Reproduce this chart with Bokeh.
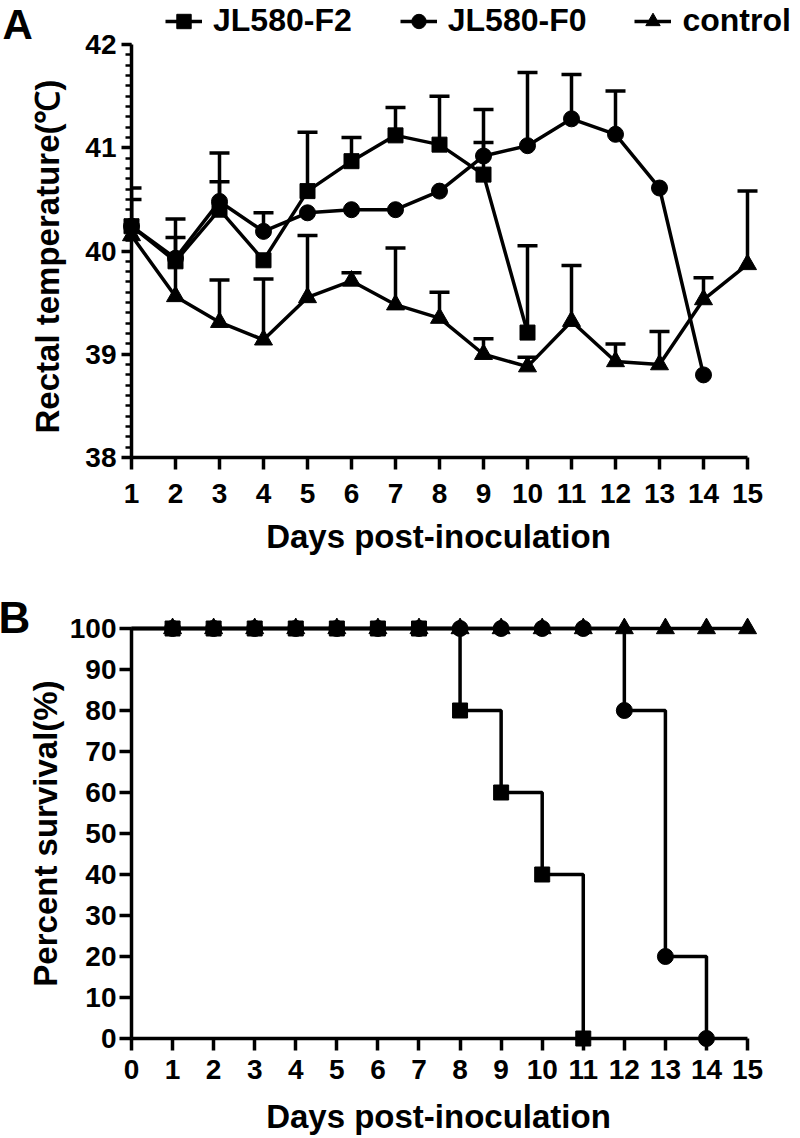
from bokeh.plotting import figure
from bokeh.layouts import column
from bokeh.models import Range1d, SingleIntervalTicker, Legend, LegendItem
from bokeh.core.properties import value
from bokeh.embed import file_html
from bokeh.resources import INLINE

# ---------------- data ----------------
days = [1, 2, 3, 4, 5, 6, 7, 8, 9, 10, 11, 12, 13, 14, 15]

f2_temp = [40.24, 39.90, 40.40, 39.91, 40.58, 40.87, 41.12, 41.03, 40.74, 39.21]
f2_sd = [0.37, 0.41, 0.27, 0.0, 0.57, 0.23, 0.27, 0.47, 0.31, 0.84]
f0_temp = [40.24, 39.93, 40.48, 40.19, 40.37, 40.40, 40.40, 40.58, 40.92, 41.02,
           41.28, 41.13, 40.61, 38.80]
f0_sd = [0.0, 0.0, 0.47, 0.18, 0.0, 0.0, 0.0, 0.0, 0.45, 0.71, 0.43, 0.42, 0.0, 0.0]
ctrl_temp = [40.15, 39.56, 39.31, 39.14, 39.55, 39.71, 39.48, 39.35, 39.00, 38.88,
             39.32, 38.93, 38.90, 39.53, 39.87]
ctrl_sd = [0.35, 0.57, 0.41, 0.59, 0.60, 0.08, 0.55, 0.25, 0.15, 0.09, 0.54, 0.17,
           0.32, 0.21, 0.71]

surv_days = [0, 1, 2, 3, 4, 5, 6, 7, 8, 9, 10, 11, 12, 13, 14, 15]
f2_surv = [100, 100, 100, 100, 100, 100, 100, 100, 80, 60, 40, 0]
f0_surv = [100, 100, 100, 100, 100, 100, 100, 100, 100, 100, 100, 100, 80, 20, 0]
ctrl_surv = [100, 100, 100, 100, 100, 100, 100, 100, 100, 100, 100, 100, 100, 100, 100, 100]

series_names = ["JL580-F2", "JL580-F0", "control"]
panel_letters = ["A", "B"]
y_title_a = "Rectal temperature(\u2103)"
y_title_b = "Percent survival(%)"
x_title = "Days post-inoculation"

FONT = "Liberation Sans"
LW = 3.5
NBSP = "\u00a0"  # trailing padding keeps titles centred on the drawn axis span

# layout (pixels)
W = 800
LEFT = 131
FRAME_W = W - LEFT
A_PX_X, A_PX_Y = 44.0, 103.25      # px per day, px per degree
A_H, A_BOTTOM = 560, 457            # figure height, frame bottom
B_PX_X = 41.07                      # px per day
B_H, B_TOP, B_FRAME_H = 578, 68, 410


def style_axis(ax, tick_out, standoff, label_standoff):
    ax.axis_line_width = LW
    ax.axis_line_color = "black"
    ax.major_tick_line_width = LW
    ax.major_tick_line_color = "black"
    ax.major_tick_out = tick_out
    ax.major_tick_in = 0
    ax.minor_tick_line_width = 2.5
    ax.minor_tick_line_color = "black"
    ax.minor_tick_out = 6
    ax.minor_tick_in = 0
    ax.major_label_text_font = FONT
    ax.major_label_text_font_size = "28px"
    ax.major_label_text_font_style = "bold"
    ax.major_label_text_color = "black"
    ax.major_label_standoff = standoff
    ax.axis_label_text_font = FONT
    ax.axis_label_text_font_size = "33px"
    ax.axis_label_text_font_style = "bold"
    ax.axis_label_text_color = "black"
    ax.axis_label_standoff = label_standoff


# ---------------- panel A ----------------
pA = figure(width=W, height=A_H,
            x_range=Range1d(1, 1 + FRAME_W / A_PX_X),
            y_range=Range1d(38, 38 + A_BOTTOM / A_PX_Y),
            output_backend="svg", toolbar_location=None,
            min_border_left=LEFT, min_border_right=0, min_border_top=0,
            min_border_bottom=A_H - A_BOTTOM)
pA.outline_line_color = None
pA.xgrid.grid_line_color = None
pA.ygrid.grid_line_color = None

pA.xaxis.ticker = SingleIntervalTicker(interval=1, num_minor_ticks=0)
pA.yaxis.ticker = SingleIntervalTicker(interval=1, num_minor_ticks=10)
pA.xaxis.bounds = (1, 15)
pA.yaxis.bounds = (38, 42)
pA.xaxis.axis_label = x_title + NBSP * 6
pA.yaxis.axis_label = y_title_a + NBSP * 6
style_axis(pA.xaxis[0], 12, 14, 12)
style_axis(pA.yaxis[0], 10, 5, 16)
pA.xaxis.minor_tick_line_color = None

markers = ["square", "circle", "triangle"]
msizes = [15, 16, 18]
temps_all = [f2_temp, f0_temp, ctrl_temp]
sds_all = [f2_sd, f0_sd, ctrl_sd]
legend_items = []
for name, temps, sds, mk, ms in zip(series_names, temps_all, sds_all, markers, msizes):
    d = days[:len(temps)]
    ex = [d[i] for i in range(len(temps)) if sds[i] > 0]
    ey0 = [temps[i] for i in range(len(temps)) if sds[i] > 0]
    ey1 = [temps[i] + sds[i] for i in range(len(temps)) if sds[i] > 0]
    pA.segment(ex, ey0, ex, ey1, line_width=LW, line_color="black")
    pA.scatter(ex, ey1, marker="dash", size=20, line_width=LW, line_color="black")
    rl = pA.line(d, temps, line_width=LW, line_color="black", level="overlay")
    rm = pA.scatter(d, temps, marker=mk, size=ms, fill_color="black",
                    line_color="black", level="overlay")
    legend_items.append(LegendItem(label=name, renderers=[rl, rm]))

legend = Legend(items=legend_items, orientation="horizontal", location=(34, 418),
                spacing=48, label_standoff=11, glyph_width=37, glyph_height=36,
                padding=0, margin=0, border_line_color=None, background_fill_alpha=0,
                label_text_font=FONT, label_text_font_size="32px",
                label_text_font_style="bold", label_text_color="black")
pA.add_layout(legend)

# panel letter "A" (outside the frame, unclipped overlay level)
pA.text(x=[1 + (2 - LEFT) / A_PX_X], y=[38 + (A_BOTTOM - 24) / A_PX_Y],
        text=[panel_letters[0]], text_font=value(FONT), text_font_size="42px",
        text_font_style="bold", text_color="black", text_baseline="alphabetic",
        text_align="left", level="overlay")

# ---------------- panel B ----------------
pB = figure(width=W, height=B_H,
            x_range=Range1d(0, FRAME_W / B_PX_X), y_range=Range1d(0, 100),
            output_backend="svg", toolbar_location=None,
            min_border_left=LEFT, min_border_right=0, min_border_top=B_TOP,
            min_border_bottom=B_H - B_TOP - B_FRAME_H)
pB.outline_line_color = None
pB.xgrid.grid_line_color = None
pB.ygrid.grid_line_color = None

pB.xaxis.ticker = SingleIntervalTicker(interval=1, num_minor_ticks=0)
pB.yaxis.ticker = SingleIntervalTicker(interval=10, num_minor_ticks=0)
pB.xaxis.bounds = (0, 15)
pB.xaxis.axis_label = x_title + NBSP * 6
pB.yaxis.axis_label = y_title_b
style_axis(pB.xaxis[0], 12, 9, 16)
style_axis(pB.yaxis[0], 12, 3, 3)
pB.xaxis.minor_tick_line_color = None
pB.yaxis.minor_tick_line_color = None

survs = [f2_surv, f0_surv, ctrl_surv]
for sv in survs:
    d = surv_days[:len(sv)]
    pB.step(d, sv, mode="after", line_width=LW, line_color="black", level="overlay")

order = [0, 2, 1]  # squares, triangles, circles on top
for k in order:
    sv = survs[k]
    d = surv_days[:len(sv)]
    pB.scatter(d[1:], sv[1:], marker=markers[k], size=msizes[k], fill_color="black",
               line_color="black", level="overlay")

b_px_y = B_FRAME_H / 100.0
pB.text(x=[(-2 - LEFT) / B_PX_X], y=[(B_TOP + B_FRAME_H - (617 - A_H)) / b_px_y],
        text=[panel_letters[1]], text_font=value(FONT), text_font_size="44px",
        text_font_style="bold", text_color="black", text_baseline="alphabetic",
        text_align="left", level="overlay")

layout = column(pA, pB)
open("out.html", "w").write(file_html(layout, INLINE))
